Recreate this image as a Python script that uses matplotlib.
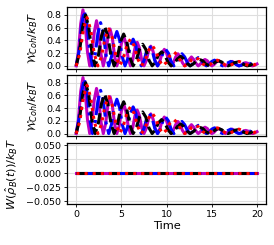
import numpy as np
import matplotlib
matplotlib.use('Agg')
import matplotlib.pyplot as plt

# sampling times of the four runs
t_mag = np.linspace(0, 20, 81)
t_blue = np.linspace(0, 19.8, 67)
t_black = np.linspace(0, 19.95, 58)
t_red = np.linspace(0, 20, 51)

# coherent ergotropy / k_B T
w_mag = [0, .22, .66, .88, .66, .22,
         0, .18, .53, .71, .53, .18,
         0, .15, .44, .58, .44, .15,
         0, .12, .35, .47, .35, .12,
         0, .09, .28, .37, .28, .09,
         0, .08, .23, .31, .23, .08,
         0, .07, .20, .26, .20, .07,
         0, .05, .14, .19, .14, .05,
         0, .04, .10, .14, .10, .04,
         0, .03, .08, .10, .08, .03,
         0, .02, .06, .08, .06, .02,
         0, .02, .05, .07, .05, .02,
         0, .01, .04, .05, .04, .01,
         0, .01, .03]
w_blue = [0, .22, .65, .86, .65, .22,
          0, .17, .51, .68, .51, .17,
          0, .14, .41, .54, .41, .14,
          0, .11, .32, .42, .32, .11,
          0, .08, .24, .32, .24, .08,
          0, .07, .20, .26, .20, .07,
          0, .05, .14, .19, .14, .05,
          0, .03, .10, .13, .10, .03,
          0, .02, .07, .09, .07, .02,
          0, .02, .05, .07, .05, .02,
          0, .01, .04, .05, .04, .01,
          0]
w_black = [0, .20, .60, .80, .60, .20,
           0, .16, .47, .62, .47, .16,
           0, .13, .38, .50, .38, .13,
           0, .09, .26, .34, .26, .09,
           0, .06, .17, .22, .17, .06,
           0, .04, .11, .15, .11, .04,
           0, .03, .08, .10, .08, .03,
           0, .02, .06, .08, .06, .02,
           0, .02, .05, .06, .05, .02,
           0, .01, .04, .05]
w_red = [0, .19, .57, .76, .57, .19,
         0, .15, .44, .58, .44, .15,
         0, .11, .32, .42, .32, .11,
         0, .08, .24, .32, .24, .08,
         0, .06, .17, .22, .17, .06,
         0, .03, .10, .13, .10, .03,
         0, .02, .07, .09, .07, .02,
         0, .02, .05, .07, .05, .02,
         0, .01, .04]

# incoherent part is zero for every run
w_zero = [0.0, 0.0]
t_zero = [0, 20]

ylabels = [r'$\mathcal{W}_{Coh}/k_BT$', r'$\mathcal{W}_{Coh}/k_BT$',
           r'$W(\hat{\rho}_B(t))/k_BT$']

fig, axes = plt.subplots(3, 1, sharex=True, figsize=(2.74, 2.45), dpi=100)
plt.subplots_adjust(left=0.245, right=0.971, top=0.971, bottom=0.167, hspace=0.1)

lw = 2.2
for i, ax in enumerate(axes):
    if i < 2:
        ax.plot(t_mag, w_mag, color='m', lw=lw)
        ax.plot(t_blue, w_blue, color='b', ls='-.', lw=lw)
        ax.plot(t_black, w_black, color='k', ls='--', lw=lw)
        ax.plot(t_red, w_red, color='r', ls=':', lw=lw)
        ax.set_yticks([0.0, 0.2, 0.4, 0.6, 0.8])
    else:
        ax.plot(t_zero, w_zero, color='m', lw=lw)
        ax.plot(t_zero, w_zero, color='b', ls='-.', lw=lw)
        ax.plot(t_zero, w_zero, color='k', ls='--', lw=lw)
        ax.plot(t_zero, w_zero, color='r', ls=':', lw=lw)
        ax.set_ylim(-0.055, 0.055)
        ax.set_yticks([-0.05, -0.025, 0.0, 0.025, 0.05])
    ax.set_ylabel(ylabels[i], fontsize=8.2)
    ax.grid(True, color='0.87', lw=0.8)
    ax.set_axisbelow(True)
    ax.tick_params(labelsize=6.8, length=2.5, width=0.6, pad=2)
    for s in ax.spines.values():
        s.set_linewidth(0.9)

axes[2].set_xticks([0, 5, 10, 15, 20])
axes[2].set_xlabel('Time', fontsize=8.2, labelpad=1)

plt.savefig('out.png', dpi=100)
